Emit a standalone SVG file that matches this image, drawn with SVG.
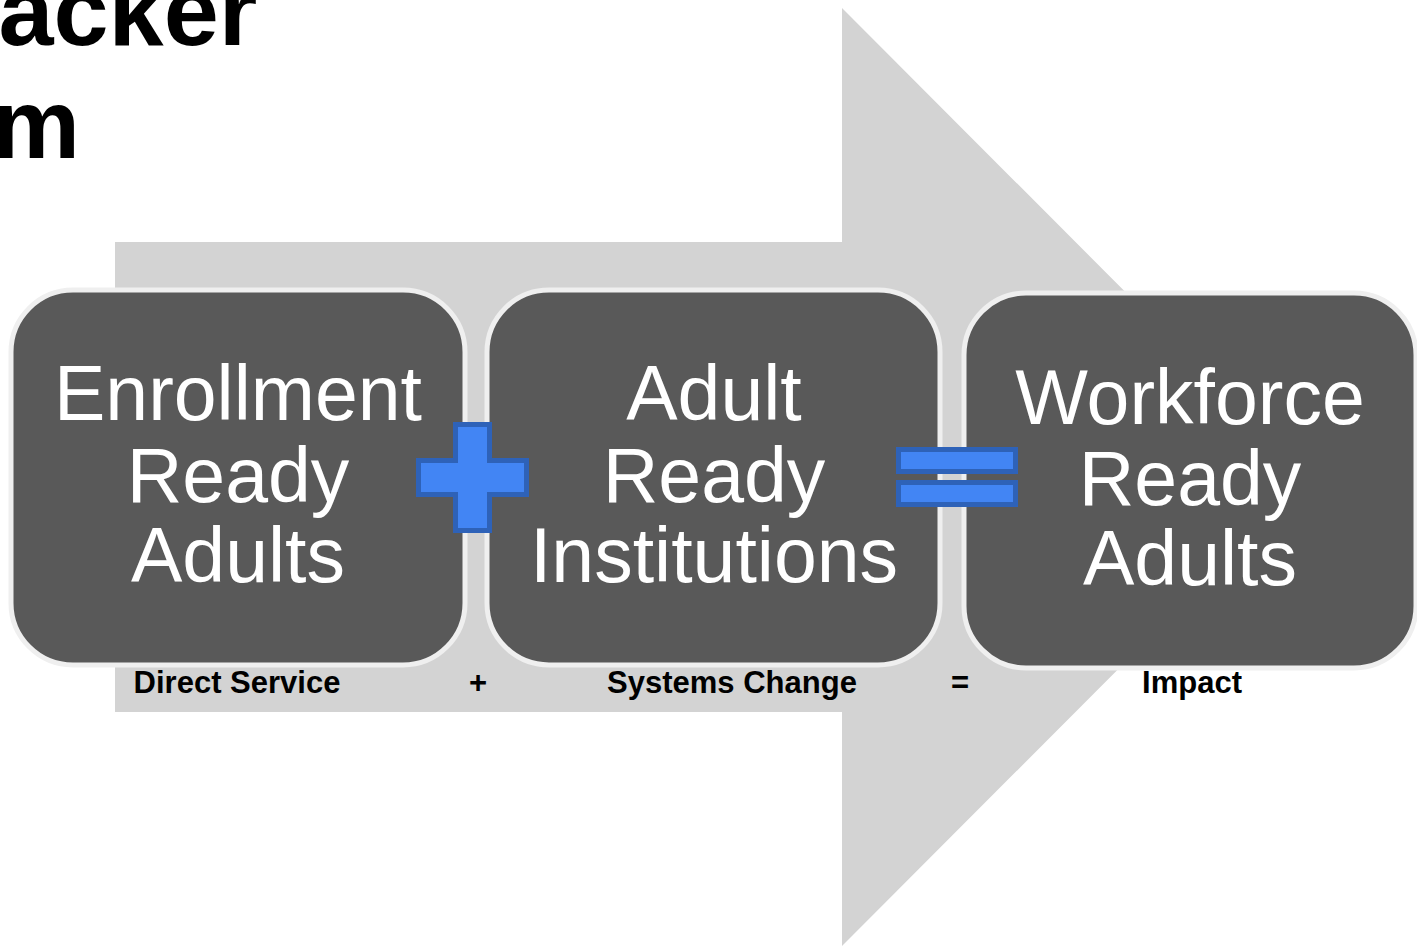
<svg xmlns="http://www.w3.org/2000/svg" width="1417" height="948" viewBox="0 0 1417 948">
<style>
.box{fill:#595959;stroke:#efefef;stroke-width:5}
.bt{font-family:"Liberation Sans",Arial,sans-serif;font-size:77px;fill:#ffffff;text-anchor:middle}
.lab{font-family:"Liberation Sans",Arial,sans-serif;font-size:31px;font-weight:bold;fill:#000000;text-anchor:middle}
.title{font-family:"Liberation Sans",Arial,sans-serif;font-size:99px;font-weight:bold;fill:#000000}
.op{fill:#4285f4;stroke:#2e62b8;stroke-width:5}
</style>
<rect width="1417" height="948" fill="#ffffff"/>
<g id="title">
<text class="title" x="-62" y="45">packer</text>
<text class="title" x="-8" y="158">m</text>
</g>
<g id="arrow">
<polygon points="115,242 842,242 842,8 1310,477 842,946 842,712 115,712" fill="#d3d3d3"/>
</g>
<g id="node1">
<rect class="box" x="11" y="290" width="454" height="375" rx="62"/>
<text class="bt" x="238" y="420">Enrollment</text>
<text class="bt" x="238" y="502">Ready</text>
<text class="bt" x="238" y="582">Adults</text>
</g>
<g id="node2">
<rect class="box" x="487" y="290" width="453" height="375" rx="62"/>
<text class="bt" x="714" y="420">Adult</text>
<text class="bt" x="714" y="502">Ready</text>
<text class="bt" x="714" y="582">Institutions</text>
</g>
<g id="node3">
<rect class="box" x="964" y="293" width="452" height="375" rx="62"/>
<text class="bt" x="1190" y="424">Workforce</text>
<text class="bt" x="1190" y="505">Ready</text>
<text class="bt" x="1190" y="585">Adults</text>
</g>
<g id="plus">
<polygon class="op" points="455.5,424.5 489.5,424.5 489.5,460.5 526.5,460.5 526.5,494.5 489.5,494.5 489.5,530.5 455.5,530.5 455.5,494.5 418.5,494.5 418.5,460.5 455.5,460.5"/>
</g>
<g id="equals">
<rect class="op" x="898.5" y="449.5" width="117" height="22"/>
<rect class="op" x="898.5" y="482.5" width="117" height="22"/>
</g>
<g id="labels">
<text class="lab" x="237" y="693">Direct Service</text>
<text class="lab" x="478" y="693">+</text>
<text class="lab" x="732" y="693">Systems Change</text>
<text class="lab" x="960" y="693">=</text>
<text class="lab" x="1192" y="693">Impact</text>
</g>
</svg>
